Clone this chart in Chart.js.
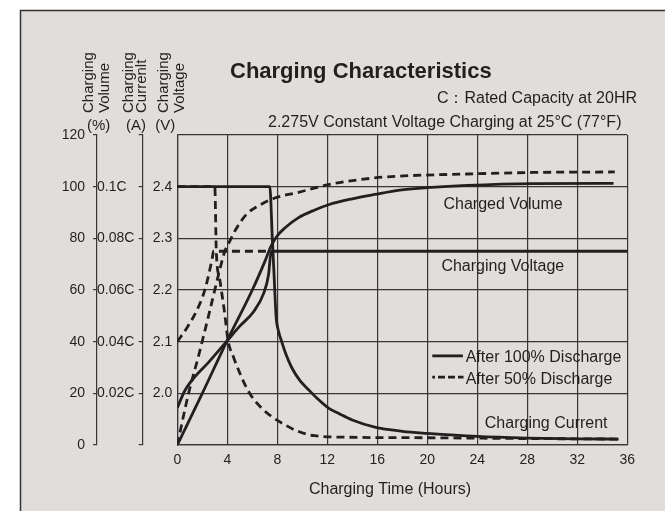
<!DOCTYPE html>
<html>
<head>
<meta charset="utf-8">
<title>Charging Characteristics</title>
<script src="https://cdn.jsdelivr.net/npm/chart.js@4.4.1/dist/chart.umd.min.js"></script>
<style>
    html, body { margin: 0; padding: 0; background: #fff; overflow: hidden; }
    canvas { display: block; }
</style>
</head>
<body>
<canvas id="chargingChart" width="665" height="511"></canvas>
<script>
// Charging time axis (hours)
const timeTicks = [0, 4, 8, 12, 16, 20, 24, 28, 32, 36];

// Charged volume (%)
const volumeHours100 = [0, 2, 4, 6, 7, 7.5, 8, 8.6, 9.7, 11, 12.1, 14, 15.8, 17.8, 20, 23.2, 28.5, 34.9];
const volume100 = [0, 20, 40.5, 60, 71, 77, 81, 84, 88, 91, 93, 95.3, 97, 98.7, 99.6, 100.5, 101.2, 101.3];
const volumeHours50 = [0, 0.9, 1.7, 2.6, 3.3, 3.8, 4.1, 4.75, 5.55, 6.5, 7.8, 9.7, 12.1, 15.8, 17.8, 23.2, 28.5, 35];
const volume50 = [0, 20, 34.5, 52, 66, 75, 78, 84, 89.4, 92.6, 95.6, 97.8, 100.8, 103.4, 104.1, 104.9, 105.5, 105.7];

// Charging voltage (V/cell)
const voltageHours100 = [0, 0.6, 1.4, 2.5, 4, 5, 6.1, 6.9, 7.3, 7.45, 7.55, 36];
const voltage100 = [1.972, 2.005, 2.032, 2.06, 2.102, 2.13, 2.158, 2.193, 2.23, 2.265, 2.275, 2.275];
const voltageHours50 = [0, 0.8, 1.55, 2.2, 2.8, 2.9, 7.45];
const voltage50 = [2.1, 2.128, 2.16, 2.2, 2.262, 2.275, 2.275];

// Charging current (xC)
const currentHours100 = [0, 7.4, 7.6, 7.75, 7.9, 8.1, 8.35, 8.7, 9.15, 9.8, 10.5, 11.2, 12.1, 13, 14, 15.8, 18, 20, 24, 28, 32, 35.3];
const current100 = [0.1, 0.1, 0.08, 0.065, 0.05, 0.044, 0.04, 0.035, 0.03, 0.025, 0.0214, 0.018, 0.0143, 0.012, 0.0097, 0.0069, 0.0053, 0.0045, 0.0033, 0.0027, 0.0024, 0.0023];
const currentHours50 = [0, 3.0, 3.12, 3.4, 3.76, 4.08, 4.5, 4.9, 5.4, 5.95, 6.7, 7.55, 8.4, 9.7, 11, 13.7, 20, 28, 35.3];
const current50 = [0.1, 0.1, 0.075, 0.064, 0.052, 0.04, 0.034, 0.029, 0.0235, 0.0188, 0.0145, 0.011, 0.0084, 0.0052, 0.0036, 0.003, 0.0028, 0.0025, 0.0023];

// Tick labels of the two inner axes
const currentTickLabels = ['', '0.02C', '0.04C', '0.06C', '0.08C', '0.1C', ''];
const voltageTickLabels = ['', '2.0', '2.1', '2.2', '2.3', '2.4', ''];

const ink = '#231f20';
const gridInk = '#3a3637';
const fontFamily = "'Liberation Sans', Arial, Helvetica, sans-serif";

Chart.defaults.font.family = fontFamily;
Chart.defaults.color = ink;

function points(xs, ys) {
    return xs.map((x, i) => ({ x: x, y: ys[i] }));
}

function curve(label, xs, ys, axis, dashed) {
    return {
        label: label,
        data: points(xs, ys),
        yAxisID: axis,
        borderColor: ink,
        borderWidth: 2.8,
        borderDash: dashed ? [8, 5] : [],
        pointRadius: 0,
        fill: false,
        cubicInterpolationMode: 'monotone'
    };
}

function put(ctx, str, x, y, align, size, weight) {
    ctx.font = (weight || 'normal') + ' ' + size + 'px ' + fontFamily;
    ctx.textAlign = align;
    ctx.textBaseline = 'alphabetic';
    ctx.fillText(str, x, y);
}

function putVertical(ctx, str, x, y) {
    ctx.save();
    ctx.translate(x, y);
    ctx.rotate(-Math.PI / 2);
    put(ctx, str, 0, 0, 'left', 15);
    ctx.restore();
}

// Frame, titles, in-plot labels and legend
const decorPlugin = {
    id: 'decor',
    beforeDraw(chart) {
        const { ctx, width, height } = chart;
        ctx.save();
        ctx.fillStyle = '#fff';
        ctx.fillRect(0, 0, width, height);
        ctx.fillStyle = '#e1ddda';
        ctx.fillRect(20, 10, width - 20, height - 10);
        ctx.strokeStyle = '#333';
        ctx.lineWidth = 1.5;
        ctx.beginPath();
        ctx.moveTo(20.5, height);
        ctx.lineTo(20.5, 10.5);
        ctx.lineTo(width, 10.5);
        ctx.stroke();
        ctx.restore();
    },
    afterDraw(chart) {
        const ctx = chart.ctx;
        const x = chart.scales.x;
        const y = chart.scales.y;
        ctx.save();
        ctx.fillStyle = ink;

        // headings
        put(ctx, 'Charging Characteristics', 230, 77.5, 'left', 22, 'bold');
        put(ctx, 'C\uFF1ARated Capacity at 20HR', 637, 103, 'right', 16);
        put(ctx, '2.275V Constant Voltage Charging at 25\u00B0C (77\u00B0F)', 268, 127, 'left', 16);

        // left axis titles
        putVertical(ctx, 'Charging', 92.5, 113);
        putVertical(ctx, 'Volume', 109, 113);
        putVertical(ctx, 'Charging', 132.5, 113);
        putVertical(ctx, 'Currenlt', 146, 113);
        putVertical(ctx, 'Charging', 167.5, 113);
        putVertical(ctx, 'Voltage', 184, 113);
        put(ctx, '(%)', 98.7, 129.5, 'center', 15);
        put(ctx, '(A)', 136, 129.5, 'center', 15);
        put(ctx, '(V)', 165.3, 129.5, 'center', 15);

        // x axis title
        put(ctx, 'Charging Time (Hours)', 390, 494, 'center', 16);

        // curve labels
        put(ctx, 'Charged Volume', x.getPixelForValue(26.06), y.getPixelForValue(91.2), 'center', 16);
        put(ctx, 'Charging Voltage', x.getPixelForValue(26.04), y.getPixelForValue(67.5), 'center', 16);
        put(ctx, 'Charging Current', x.getPixelForValue(29.51), y.getPixelForValue(6.5), 'center', 16);

        // legend
        const lx1 = x.getPixelForValue(20.4);
        const lx2 = x.getPixelForValue(22.85);
        const tx = x.getPixelForValue(23.07);
        ctx.strokeStyle = ink;
        ctx.lineWidth = 2.8;
        ctx.beginPath();
        ctx.moveTo(lx1, y.getPixelForValue(34.5));
        ctx.lineTo(lx2, y.getPixelForValue(34.5));
        ctx.stroke();
        ctx.setLineDash([7, 3]);
        ctx.lineDashOffset = 4.3;
        ctx.beginPath();
        ctx.moveTo(lx1, y.getPixelForValue(26.3));
        ctx.lineTo(lx2 + 0.6, y.getPixelForValue(26.3));
        ctx.stroke();
        ctx.setLineDash([]);
        put(ctx, 'After 100% Discharge', tx, y.getPixelForValue(32.1), 'left', 16);
        put(ctx, 'After 50% Discharge', tx, y.getPixelForValue(23.7), 'left', 16);

        ctx.restore();
    }
};

const ctxChart = document.getElementById('chargingChart');
new Chart(ctxChart, {
    type: 'line',
    data: {
        datasets: [
            curve('Charged Volume, after 100% discharge', volumeHours100, volume100, 'y', false),
            curve('Charged Volume, after 50% discharge', volumeHours50, volume50, 'y', true),
            curve('Charging Voltage, after 100% discharge', voltageHours100, voltage100, 'yVolt', false),
            curve('Charging Voltage, after 50% discharge', voltageHours50, voltage50, 'yVolt', true),
            curve('Charging Current, after 100% discharge', currentHours100, current100, 'yCur', false),
            curve('Charging Current, after 50% discharge', currentHours50, current50, 'yCur', true)
        ]
    },
    options: {
        responsive: false,
        animation: false,
        layout: {
            padding: { left: 30, right: 37.7, top: 135, bottom: 0 }
        },
        plugins: {
            legend: { display: false },
            tooltip: { enabled: false },
            title: { display: false }
        },
        scales: {
            x: {
                type: 'linear',
                min: 0,
                max: 36,
                afterBuildTicks: scale => {
                    scale.ticks = timeTicks.map(v => ({ value: v }));
                },
                afterFit: scale => { scale.height = 66; },
                grid: { color: gridInk, lineWidth: 1.2, drawTicks: false },
                border: { color: gridInk, width: 1.2 },
                ticks: { padding: 7, font: { size: 14 }, color: ink }
            },
            y: {
                position: 'left',
                weight: 3,
                min: 0,
                max: 120,
                afterFit: scale => { scale.width = 67; },
                grid: { color: gridInk, lineWidth: 1.2, tickLength: 4 },
                border: { color: gridInk, width: 1.2 },
                ticks: { stepSize: 20, padding: 8, font: { size: 14 }, color: ink }
            },
            yCur: {
                position: 'left',
                weight: 2,
                min: 0,
                max: 0.12,
                afterFit: scale => { scale.width = 45.7; },
                grid: { color: gridInk, lineWidth: 1.2, tickLength: 4, drawOnChartArea: false },
                border: { color: gridInk, width: 1.2 },
                ticks: {
                    stepSize: 0.02,
                    crossAlign: 'far',
                    font: { size: 14 },
                    color: ink,
                    callback: (value, index) => currentTickLabels[index]
                }
            },
            yVolt: {
                position: 'left',
                weight: 1,
                min: 1.9,
                max: 2.5,
                afterFit: scale => { scale.width = 34.6; },
                grid: { drawOnChartArea: false, drawTicks: false },
                border: { color: gridInk, width: 1.2 },
                ticks: {
                    stepSize: 0.1,
                    padding: 5,
                    font: { size: 14 },
                    color: ink,
                    callback: (value, index) => voltageTickLabels[index]
                }
            }
        }
    },
    plugins: [decorPlugin]
});
</script>
</body>
</html>
